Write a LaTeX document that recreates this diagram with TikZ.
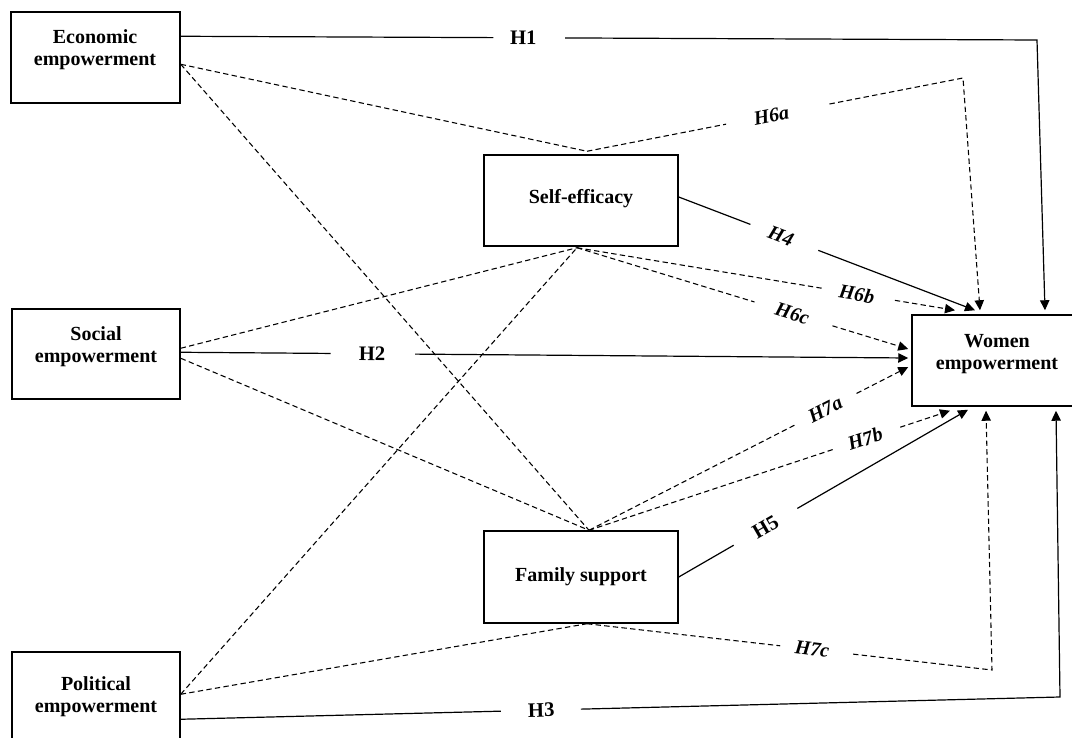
\documentclass[tikz,border=0pt]{standalone}
\usepackage{fontspec}
\setmainfont{Liberation Serif}
\usetikzlibrary{arrows.meta,calc}
% #1 line style, #2 label style, #3 from, #4 to, #5 gap start, #6 gap end, #7 label pos, #8 label
\newcommand{\gapconn}[8]{%
  \draw[#1] (#3) -- ($(#3)!#5!(#4)$);
  \draw[#1,tip] ($(#3)!#6!(#4)$) -- (#4);
  \path (#3) -- node[#2,pos=#7]{#8} (#4);
}
\begin{document}
\begin{tikzpicture}[x=0.75pt,y=-0.75pt,
  box/.style={draw, line width=1.1pt, rectangle, inner sep=0pt},
  boxtxt/.style={font=\fontsize{15}{16.5}\selectfont\bfseries, align=center, inner sep=0pt},
  solidc/.style={line width=0.9pt},
  dashc/.style={line width=0.8pt, dash pattern=on 4pt off 2.5pt},
  tip/.style={-{Triangle[length=7.5pt,width=7pt]}},
  lbl/.style={inner sep=1pt, sloped, font=\fontsize{15.5}{15.5}\selectfont\bfseries},
  ilbl/.style={lbl, font=\fontsize{15}{15}\selectfont\bfseries\itshape}
]
\useasboundingbox (0,0) rectangle (1072,738);
\clip (0,0) rectangle (1072,738);

% boxes
\node[box, minimum width=126.75pt, minimum height=68.25pt] (eco) at (95.5,57.5) {};
\node[boxtxt] (ecot) at (95,50) {Economic\\empowerment};
\node[box, minimum width=126pt, minimum height=67.5pt] (soc) at (96,354) {};
\node[boxtxt] (soct) at (96,347) {Social\\empowerment};
\node[box, minimum width=126pt, minimum height=67.5pt] (pol) at (96,697) {};
\node[boxtxt] (polt) at (96,697) {Political\\empowerment};
\node[box, minimum width=145.5pt, minimum height=68.25pt] (self) at (581,200.5) {};
\node[boxtxt] (selft) at (581,199) {Self-efficacy};
\node[box, minimum width=145.5pt, minimum height=69pt] (fam) at (581,577) {};
\node[boxtxt] (famt) at (581,577) {Family support};
\node[box, minimum width=127.5pt, minimum height=68.25pt] (wom) at (997,360.5) {};
\node[boxtxt] (womt) at (997,354) {Women\\empowerment};

% anchor coordinates on the boxes
\coordinate (ecoA) at ($(eco.north east)+(0,25)$);
\coordinate (ecoB) at ($(eco.north east)+(0,53)$);
\coordinate (socA) at ($(soc.north east)+(0,40)$);
\coordinate (socH) at ($(soc.north east)+(0,44)$);
\coordinate (socB) at ($(soc.north east)+(0,50)$);
\coordinate (polA) at ($(pol.north east)+(0,43)$);
\coordinate (polH) at ($(pol.north east)+(0,68)$);
\coordinate (selftop) at ($(self.north)+(6,-3)$);
\coordinate (selfbot) at ($(self.south)+(-4,1)$);
\coordinate (selfR) at ($(self.east)+(0,-3.5)$);
\coordinate (famtop) at ($(fam.north)+(8,0)$);
\coordinate (fambot) at ($(fam.south)+(6,0)$);
\coordinate (famR) at (fam.east);
% arrow ends on Women empowerment
\coordinate (wH1) at ($(wom.north)+(48,-4)$);
\coordinate (wH6a) at ($(wom.north)+(-17,-4)$);
\coordinate (wH4) at ($(wom.north)+(-22,-4)$);
\coordinate (wH6b) at ($(wom.north)+(-42,-4)$);
\coordinate (wH6c) at ($(wom.west)+(-3,-11.5)$);
\coordinate (wH2) at ($(wom.west)+(-3,-2.5)$);
\coordinate (wH7a) at ($(wom.west)+(-3,6.5)$);
\coordinate (wH7b) at ($(wom.south)+(-47,4)$);
\coordinate (wH5) at ($(wom.south)+(-29,3)$);
\coordinate (wH7c) at ($(wom.south)+(-11,4)$);
\coordinate (wH3) at ($(wom.south)+(59,4)$);
% corners
\coordinate (c1) at (1037,40);
\coordinate (c6a) at (963,78);
\coordinate (c3) at (1060,697);
\coordinate (c7c) at (992,670);

% Economic empowerment
\draw[solidc] (ecoA) -- ($(ecoA)!0.365!(c1)$);
\draw[solidc,tip] ($(ecoA)!0.449!(c1)$) -- (c1) -- (wH1);
\path (ecoA) -- node[lbl,pos=0.40]{H1} (c1);
\draw[dashc] (ecoB) -- (selftop);
\draw[dashc] (ecoB) -- (famtop);
\draw[dashc] (selftop) -- ($(selftop)!0.37!(c6a)$);
\draw[dashc,tip] ($(selftop)!0.645!(c6a)$) -- (c6a) -- (wH6a);
\path (selftop) -- node[ilbl,pos=0.49]{H6a} (c6a);

% Social empowerment
\draw[dashc] (socA) -- (selfbot);
\draw[dashc] (socB) -- (famtop);
\gapconn{solidc}{lbl}{socH}{wH2}{0.206}{0.322}{0.263}{H2}

% Political empowerment
\draw[dashc] (polA) -- (selfbot);
\draw[dashc] (polA) -- (fambot);
\draw[solidc] (polH) -- ($(polH)!0.364!(c3)$);
\draw[solidc,tip] ($(polH)!0.455!(c3)$) -- (c3) -- (wH3);
\path (polH) -- node[lbl,pos=0.41]{H3} (c3);

% Self-efficacy
\gapconn{solidc}{ilbl}{selfR}{wH4}{0.242}{0.471}{0.345}{H4}
\gapconn{dashc}{ilbl}{selfbot}{wH6b}{0.648}{0.841}{0.74}{H6b}
\gapconn{dashc}{ilbl}{selfbot}{wH6c}{0.536}{0.771}{0.65}{H6c}

% Family support
\gapconn{dashc}{ilbl}{famtop}{wH7a}{0.645}{0.838}{0.74}{H7a}
\gapconn{dashc}{ilbl}{famtop}{wH7b}{0.677}{0.862}{0.765}{H7b}
\gapconn{solidc}{lbl}{famR}{wH5}{0.19}{0.41}{0.30}{H5}
\draw[dashc] (fambot) -- ($(fambot)!0.477!(c7c)$);
\draw[dashc,tip] ($(fambot)!0.657!(c7c)$) -- (c7c) -- (wH7c);
\path (fambot) -- node[ilbl,pos=0.556]{H7c} (c7c);
\end{tikzpicture}
\end{document}
